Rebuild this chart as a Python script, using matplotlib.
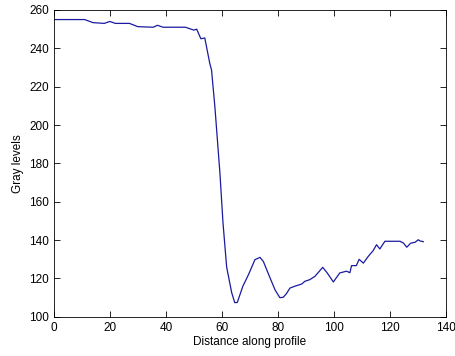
import matplotlib.pyplot as plt

# Profile samples (distance, gray level)
distance = [0, 11, 14, 18, 20, 22, 27, 30, 35.5, 37, 39, 47, 49, 50, 51, 52.5,
            53.9, 55.7, 56.3, 57.5, 59.3, 60.4, 61.7, 63.5, 64.6, 65.5, 67.5,
            69.5, 71.8, 73.6, 74.8, 77, 79, 80.7, 81.9, 83, 84.3, 86.1, 88.5,
            89.6, 91.4, 93.2, 96, 97.6, 99.8, 102.1, 104.5, 105.7, 106.3, 108,
            109, 110.5, 112.3, 114, 115.2, 116.4, 118.2, 123.6, 124.8, 126,
            127.4, 129, 130.1, 130.7, 131.9]
gray = [255, 255, 253.4, 253, 254, 253, 253, 251.3, 251, 252, 251, 251, 250, 249.5, 250, 245,
        245.4, 232, 228.8, 209.6, 175, 149, 126, 112.6, 107.4, 107.5, 116,
        122, 129.8, 131, 128.9, 121, 114, 110, 110.2, 112, 115, 116, 117.1,
        118.5, 119.4, 121.1, 125.8, 122.9, 118.2, 122.9, 123.8, 123, 126.7, 126.7,
        130, 128, 131.6, 134.5, 137.6, 135.4, 139.4, 139.4, 138.5, 136.3,
        138.4, 138.9, 140.2, 139.6, 139.2]

plt.rcParams['font.family'] = ['Liberation Sans', 'DejaVu Sans']

fig = plt.figure(figsize=(4.56, 3.56), dpi=100)
ax = fig.add_axes([0.118, 0.11, 0.86, 0.862])
ax.plot(distance, gray, color='#1a1aa0', linewidth=0.9)
ax.set_xlim(0, 140)
ax.set_ylim(100, 260)
ax.set_xticks(range(0, 141, 20))
ax.set_yticks(range(100, 261, 20))
ax.tick_params(direction='in', top=True, right=True, labelsize=8.5, length=4, width=0.6)
for s in ax.spines.values():
    s.set_linewidth(0.6)
ax.set_xlabel("Distance along profile", fontsize=8.5, labelpad=2)
ax.set_ylabel("Gray levels", fontsize=8.5, labelpad=4)
fig.savefig("out.png", dpi=100)
